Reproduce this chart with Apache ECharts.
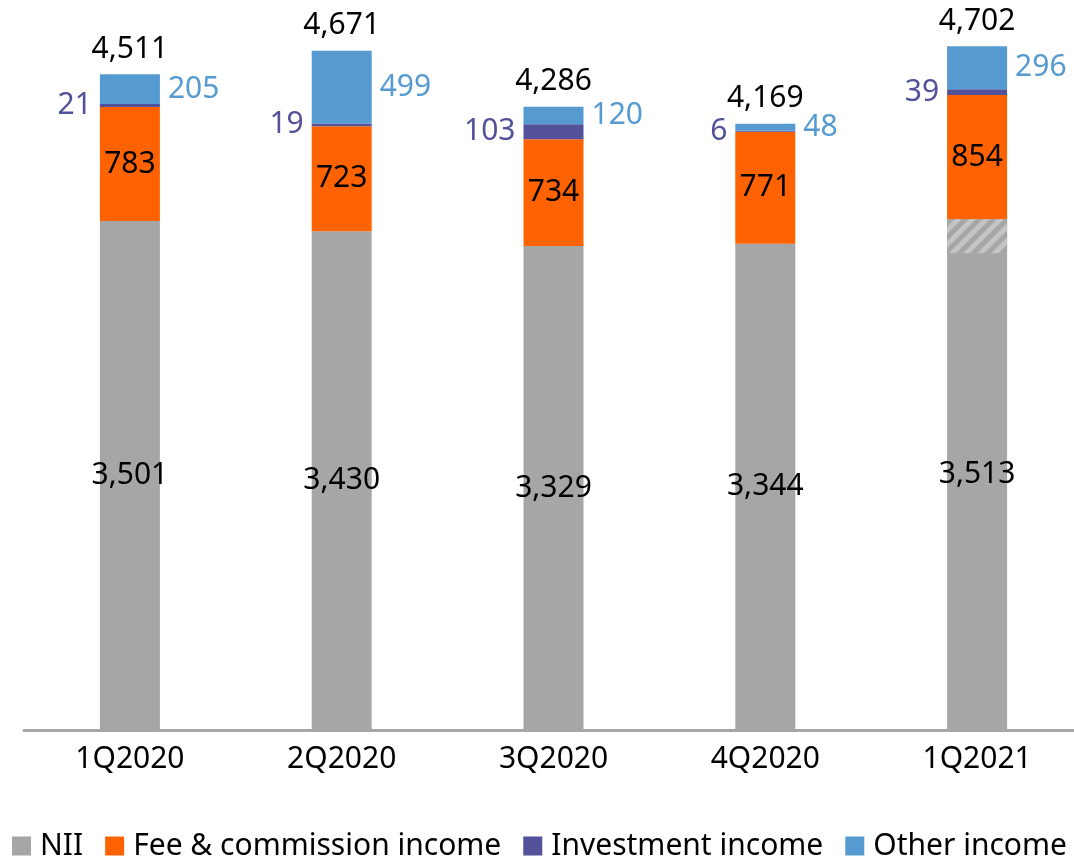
<!DOCTYPE html>
<html>
<head>
<meta charset="utf-8">
<script src="https://cdn.jsdelivr.net/npm/echarts@6/dist/echarts.min.js"></script>
<style>html,body{margin:0;padding:0;background:#fff}#c{width:1074px;height:858px}</style>
</head>
<body>
<div id="c"></div>
<script>
const categories = ['1Q2020', '2Q2020', '3Q2020', '4Q2020', '1Q2021'];
const nii = [3501, 3430, 3329, 3344, 3513];
const fee = [783, 723, 734, 771, 854];
const investment = [21, 19, 103, 6, 39];
const other = [205, 499, 120, 48, 296];
const totals = [4511, 4671, 4286, 4169, 4702];
const niiHatched = [0, 0, 0, 0, 234];

const FONT = 'Noto Sans';
const fmt = v => v.toLocaleString('en-US');
const chart = echarts.init(document.getElementById('c'));
const hatchBase = nii.map((v, i) => v - niiHatched[i]);

chart.setOption({
  animation: false,
  textStyle: { fontFamily: FONT },
  grid: { left: 24, width: 1059, top: 3, bottom: 128, outerBoundsMode: 'none' },
  legend: {
    data: ['NII', 'Fee & commission income', 'Investment income', 'Other income'],
    left: 12, top: 831, padding: 0,
    icon: 'rect', itemWidth: 19, itemHeight: 19, itemGap: 22,
    textStyle: { fontFamily: FONT, fontSize: 30, color: '#000', padding: [0, 0, 0, 4] }
  },
  xAxis: [{
    type: 'category', data: categories,
    axisLine: { lineStyle: { color: '#A6A6A6', width: 3 } },
    axisTick: { show: false },
    axisLabel: { fontFamily: FONT, fontSize: 30, color: '#000', margin: 14 }
  }, {
    type: 'category', data: categories, show: false
  }],
  yAxis: { type: 'value', min: 0, max: 5000, show: false, splitLine: { show: false } },
  series: [
    {
      name: 'NII', type: 'bar', stack: 'a', barWidth: 60, data: nii,
      itemStyle: { color: '#A6A6A6' },
      label: { show: true, position: 'inside', fontSize: 30, color: '#000', formatter: p => fmt(p.value) }
    },
    {
      name: 'Fee & commission income', type: 'bar', stack: 'a', barWidth: 60, data: fee,
      itemStyle: { color: '#FF6200' },
      label: { show: true, position: 'inside', fontSize: 30, color: '#000', formatter: p => fmt(p.value) }
    },
    {
      name: 'Investment income', type: 'bar', stack: 'a', barWidth: 60, data: investment,
      itemStyle: { color: '#525199' },
      label: { show: true, position: 'left', distance: 8, fontSize: 30, color: '#525199', formatter: p => fmt(p.value) }
    },
    {
      name: 'Other income', type: 'bar', stack: 'a', barWidth: 60, data: other,
      itemStyle: { color: '#559BD1' },
      label: { show: true, position: 'right', distance: 8, fontSize: 30, color: '#559BD1', formatter: p => fmt(p.value) }
    },
    {
      name: 'Total', type: 'bar', stack: 'a', barWidth: 60, data: totals.map(() => 0),
      itemStyle: { color: 'transparent' },
      label: { show: true, position: 'top', distance: 10, fontSize: 30, color: '#000', formatter: p => fmt(totals[p.dataIndex]) }
    },
    {
      name: 'hb', type: 'bar', stack: 'h', xAxisIndex: 1, barWidth: 60, data: hatchBase,
      itemStyle: { color: 'transparent' }, silent: true
    },
    {
      name: 'hatch', type: 'bar', stack: 'h', xAxisIndex: 1, barWidth: 60, data: niiHatched,
      silent: true,
      itemStyle: {
        color: '#A6A6A6',
        decal: { symbol: 'rect', symbolSize: 1, color: '#C4C4C4', dashArrayX: [1, 0], dashArrayY: [5, 5], rotation: -Math.PI / 4 }
      }
    }
  ]
});
</script>
</body>
</html>
